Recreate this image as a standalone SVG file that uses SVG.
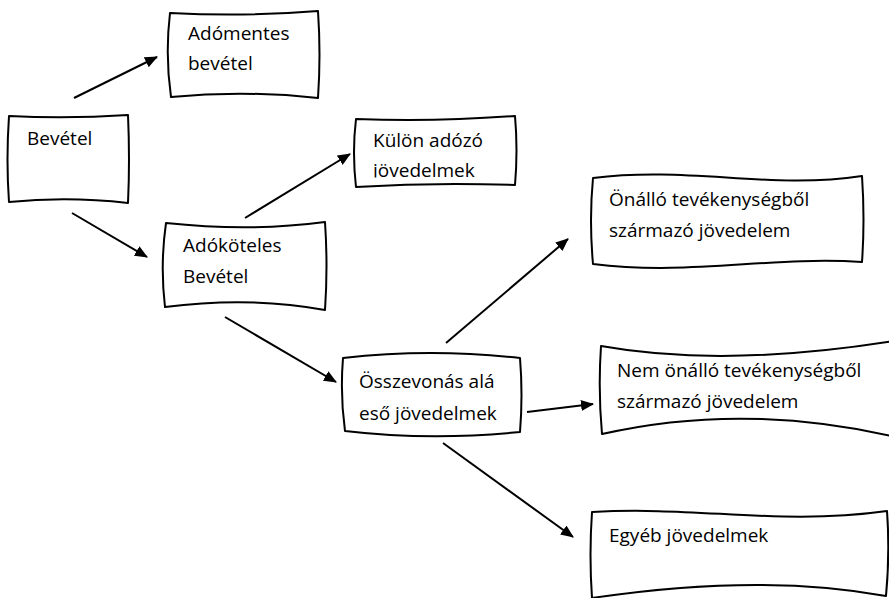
<svg xmlns="http://www.w3.org/2000/svg" width="889" height="598" viewBox="0 0 889 598">
<style>
.box{fill:#fff;stroke:#000;stroke-width:2;stroke-linejoin:round}
.lbl{font-family:"Open Sans","Liberation Sans",sans-serif;font-size:19px;fill:#000}
.arr{stroke:#000;stroke-width:2;fill:none;marker-end:url(#ah)}
</style>
<defs>
<marker id="ah" markerUnits="userSpaceOnUse" markerWidth="13" markerHeight="11" refX="12" refY="5.5" orient="auto">
<path d="M0,0 L13,5.5 L0,11 Z" fill="#000"/>
</marker>
<clipPath id="clip3"><rect x="356" y="118" width="160" height="59.5"/></clipPath>
</defs>
<rect width="889" height="598" fill="#fff"/>
<g id="connectors">
<line class="arr" x1="74" y1="98" x2="157" y2="57"/>
<line class="arr" x1="72" y1="213" x2="147" y2="257"/>
<line class="arr" x1="245" y1="218" x2="350" y2="154"/>
<line class="arr" x1="225" y1="317" x2="336" y2="382"/>
<line class="arr" x1="446" y1="343" x2="568" y2="239"/>
<line class="arr" x1="527" y1="412" x2="593" y2="404"/>
<line class="arr" x1="443" y1="443" x2="573" y2="537"/>
</g>
<g id="n-adomentes">
<path class="box" d="M170,13 Q245,17 318,11 Q321,55 318,98 Q245,90 171,97 Q165,55 170,13 Z"/>
<text class="lbl" x="188" y="40">Adómentes</text>
<text class="lbl" x="188" y="70">bevétel</text>
</g>
<g id="n-bevetel">
<path class="box" d="M9,116 Q68,119 128,115 Q130,160 128,203 Q68,196 9,202 Q6,160 9,116 Z"/>
<text class="lbl" x="27" y="145">Bevétel</text>
</g>
<g id="n-kulon">
<path class="box" d="M356,119 Q435,122 515,116 Q518,150 515,185 Q435,182 356,187 Q352,152 356,119 Z"/>
<text class="lbl" x="373" y="147">Külön adózó</text>
<text class="lbl" x="373" y="177" clip-path="url(#clip3)">jövedelmek</text>
</g>
<g id="n-adokoteles">
<path class="box" d="M166,223 Q250,232 325,222 Q328,266 325,310 Q250,296 165,307 Q160,265 166,223 Z"/>
<text class="lbl" x="183" y="252">Adóköteles</text>
<text class="lbl" x="183" y="283">Bevétel</text>
</g>
<g id="n-osszevonas">
<path class="box" d="M343,358 Q430,348 520,358 Q523,395 520,432 Q430,441 345,431 Q340,395 343,358 Z"/>
<text class="lbl" x="359" y="388">Összevonás alá</text>
<text class="lbl" x="359" y="420">eső jövedelmek</text>
</g>
<g id="n-onallo">
<path class="box" d="M593,178 C690,166 770,190 862,176 Q865,220 862,262 C770,256 690,276 593,264 Q589,220 593,178 Z"/>
<text class="lbl" x="609" y="206">Önálló tevékenységből</text>
<text class="lbl" x="609" y="237">származó jövedelem</text>
</g>
<g id="n-nemonallo">
<path class="box" d="M601,346 C690,362 790,358 900,340 L900,438 C790,412 690,414 602,434 Q598,390 601,346 Z"/>
<text class="lbl" x="617" y="377">Nem önálló tevékenységből</text>
<text class="lbl" x="617" y="408">származó jövedelem</text>
</g>
<g id="n-egyeb">
<path class="box" d="M592,512 C700,506 780,526 887,511 Q890,553 886,596 C800,580 700,582 592,598 Q589,555 592,512 Z"/>
<text class="lbl" x="609" y="542">Egyéb jövedelmek</text>
</g>
</svg>
